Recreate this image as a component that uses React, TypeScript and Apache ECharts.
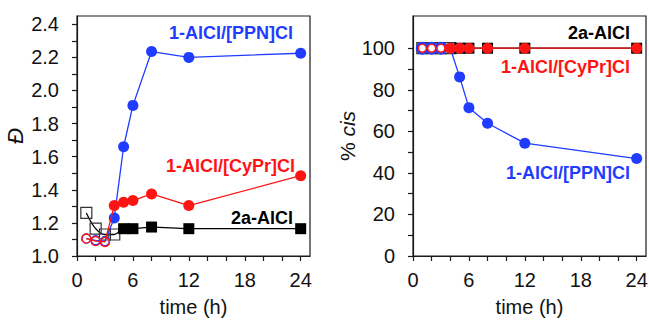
import React, { useEffect, useRef } from 'react';
import * as echarts from 'echarts';

// sampling times (h)
const times = [1, 2, 3, 4, 5, 6, 8, 12, 24];

// dispersity (left panel)
const dispPPN = [1.105, 1.095, 1.09, 1.23, 1.66, 1.91, 2.235, 2.2, 2.225];
const dispCyPr = [1.105, 1.09, 1.085, 1.305, 1.325, 1.335, 1.375, 1.305, 1.485];
const disp2a = [1.26, 1.165, 1.13, 1.13, 1.165, 1.165, 1.175, 1.165, 1.165];

// % cis (right panel)
const cisPPN = [100, 100, 100, 100, 86.2, 71.4, 63.9, 54.3, 46.9];
const cisCyPr = [100, 100, 100, 100, 100, 100, 100, 100, 100];
const cis2a = [100, 100, 100, 100, 100, 100, 100, 100, 100];

// number of early (open-symbol) points in each series
const openPPN = 3;
const openCyPr = 3;
const open2a = 4;

// ticks and labels
const xTicks = [0, 2, 4, 6, 8, 10, 12, 14, 16, 18, 20, 22, 24];
const xLabels = [0, 6, 12, 18, 24];
const dispTicks = [1.0, 1.1, 1.2, 1.3, 1.4, 1.5, 1.6, 1.7, 1.8, 1.9, 2.0, 2.1, 2.2, 2.3, 2.4];
const dispLabels = [1.0, 1.2, 1.4, 1.6, 1.8, 2.0, 2.2, 2.4];
const cisTicks = [0, 10, 20, 30, 40, 50, 60, 70, 80, 90, 100];
const cisLabels = [0, 20, 40, 60, 80, 100];

const BLUE = '#1f3cff';
const RED = '#ff1414';
const BLACK = '#000000';
const AXIS = '#1a1a1a';
const FONT = '"Liberation Sans", Arial, sans-serif';

type OpenStyle = { size: number; border: number; fill: string };

function makeSeries(
  ys: number[],
  color: string,
  symbol: string,
  openN: number,
  gi: number,
  z: number,
  open: OpenStyle,
  smooth: number | boolean = false
) {
  return {
    type: 'line',
    xAxisIndex: gi,
    yAxisIndex: gi,
    smooth,
    symbol,
    showSymbol: true,
    z,
    lineStyle: { color, width: 1.3 },
    data: times.map((t, i) => {
      const isOpen = i < openN;
      return {
        value: [t, ys[i]],
        symbolSize: isOpen ? open.size : 11,
        itemStyle: isOpen
          ? { color: open.fill, borderColor: color === BLACK ? '#333' : color, borderWidth: open.border }
          : { color, borderColor: color, borderWidth: 0 },
      };
    }),
  };
}

function xAxisCfg(gi: number) {
  return {
    gridIndex: gi,
    type: 'value',
    min: 0,
    max: 25,
    axisLine: { show: true, onZero: false, lineStyle: { color: AXIS, width: 1.2 } },
    axisTick: { show: true, inside: false, length: 5, customValues: xTicks, lineStyle: { color: AXIS, width: 1.2 } },
    axisLabel: { customValues: xLabels, fontSize: 20, margin: 14, color: '#111', fontFamily: FONT },
    splitLine: { show: false },
    name: 'time (h)',
    nameLocation: 'middle',
    nameGap: 41,
    nameTextStyle: { fontSize: 20, lineHeight: 20, color: '#111', fontFamily: FONT },
  };
}

function label(text: string, x: number, y: number, fill: string) {
  return {
    type: 'text',
    x,
    y,
    z: 100,
    style: {
      text,
      fill,
      font: `bold 18px ${FONT}`,
      align: 'right',
      verticalAlign: 'middle',
    },
  };
}

const leftOpenCircle: OpenStyle = { size: 9, border: 1.4, fill: 'rgba(255,255,255,0)' };
const leftOpenSquare: OpenStyle = { size: 11, border: 1.2, fill: 'rgba(255,255,255,0)' };
const rightOpenSquare: OpenStyle = { size: 11, border: 1.2, fill: '#ffffff' };
const rightOpenBlue: OpenStyle = { size: 10, border: 3, fill: BLUE };
const rightOpenRed: OpenStyle = { size: 8, border: 1.4, fill: '#ffffff' };

export default function App() {
  const ref = useRef<HTMLDivElement>(null);

  useEffect(() => {
    if (!ref.current) return;
    const chart = echarts.init(ref.current, null, { renderer: 'svg' });
    const gridBase = {
      top: 16,
      width: 233,
      height: 240,
      show: true,
      borderColor: AXIS,
      borderWidth: 1.2,
      backgroundColor: 'transparent',
      containLabel: false,
      outerBoundsMode: 'none',
    };
    chart.setOption({
      animation: false,
      backgroundColor: '#ffffff',
      grid: [
        { ...gridBase, left: 77 },
        { ...gridBase, left: 413 },
      ],
      xAxis: [xAxisCfg(0), xAxisCfg(1)],
      yAxis: [
        {
          gridIndex: 0,
          type: 'value',
          min: 1.0,
          max: 2.45,
          axisLine: { show: true, onZero: false, lineStyle: { color: AXIS, width: 1.2 } },
          axisTick: { show: true, inside: false, length: 5, customValues: dispTicks, lineStyle: { color: AXIS, width: 1.2 } },
          axisLabel: {
            customValues: dispLabels,
            fontSize: 20,
            margin: 18,
            color: '#111',
            fontFamily: FONT,
            formatter: (v: number) => v.toFixed(1),
          },
          splitLine: { show: false },
          name: 'Đ',
          nameLocation: 'middle',
          nameGap: 51,
          nameRotate: 90,
          nameTextStyle: { fontSize: 22, fontStyle: 'italic', color: '#111', fontFamily: FONT },
        },
        {
          gridIndex: 1,
          type: 'value',
          min: 0,
          max: 115.5,
          axisLine: { show: true, onZero: false, lineStyle: { color: AXIS, width: 1.2 } },
          axisTick: { show: true, inside: false, length: 5, customValues: cisTicks, lineStyle: { color: AXIS, width: 1.2 } },
          axisLabel: { customValues: cisLabels, fontSize: 20, margin: 18, color: '#111', fontFamily: FONT },
          splitLine: { show: false },
          name: '{n|% }{i|cis}',
          nameLocation: 'middle',
          nameGap: 55,
          nameRotate: 90,
          nameTextStyle: {
            fontSize: 21,
            color: '#111',
            fontFamily: FONT,
            rich: {
              n: { fontSize: 21, fontFamily: FONT, color: '#111' },
              i: { fontSize: 21, fontFamily: FONT, fontStyle: 'italic', color: '#111' },
            },
          },
        },
      ],
      series: [
        makeSeries(disp2a, BLACK, 'rect', open2a, 0, 2, leftOpenSquare, 0.35),
        makeSeries(dispPPN, BLUE, 'circle', openPPN, 0, 3, leftOpenCircle),
        makeSeries(dispCyPr, RED, 'circle', openCyPr, 0, 4, leftOpenCircle),
        makeSeries(cis2a, BLACK, 'rect', open2a, 1, 2, rightOpenSquare),
        makeSeries(cisPPN, BLUE, 'circle', openPPN, 1, 3, rightOpenBlue),
        makeSeries(cisCyPr, RED, 'circle', openCyPr, 1, 4, rightOpenRed),
      ],
      graphic: [
        label('1-AlCl/[PPN]Cl', 293, 33, BLUE),
        label('1-AlCl/[CyPr]Cl', 295, 166, RED),
        label('2a-AlCl', 293, 218, BLACK),
        label('2a-AlCl', 630, 33, BLACK),
        label('1-AlCl/[CyPr]Cl', 630, 67, RED),
        label('1-AlCl/[PPN]Cl', 630, 173, BLUE),
      ],
    });
    return () => chart.dispose();
  }, []);

  return (
    <div
      ref={ref}
      style={{ position: 'absolute', left: 0, top: 0, width: 649, height: 320, background: '#fff' }}
    />
  );
}
